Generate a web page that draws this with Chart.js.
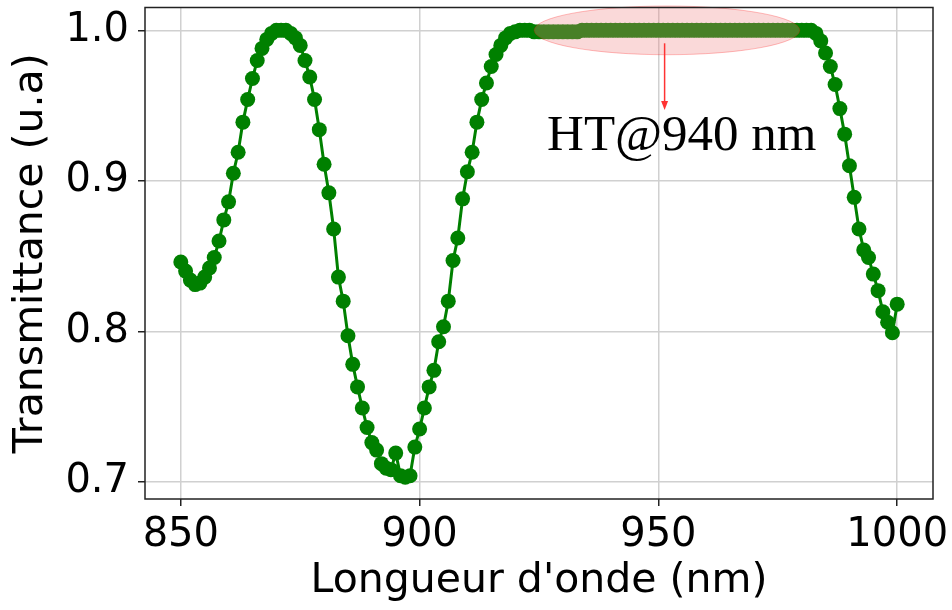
<!DOCTYPE html>
<html>
<head>
<meta charset="utf-8">
<script src="https://cdn.jsdelivr.net/npm/chart.js@4.4.1/dist/chart.umd.min.js"></script>
<style>
  html, body { margin: 0; background: #fff; }
  #wrap { width: 952px; height: 610px; }
</style>
</head>
<body>
<div id="wrap"><canvas id="chart" width="952" height="610"></canvas></div>
<script>
// Spectre de transmission du filtre, pas de 1 nm
const WAVELENGTH = [
  850, 851, 852, 853, 854, 855, 856, 857, 858, 859,
  860, 861, 862, 863, 864, 865, 866, 867, 868, 869,
  870, 871, 872, 873, 874, 875, 876, 877, 878, 879,
  880, 881, 882, 883, 884, 885, 886, 887, 888, 889,
  890, 891, 892, 893, 894, 895, 896, 897, 898, 899,
  900, 901, 902, 903, 904, 905, 906, 907, 908, 909,
  910, 911, 912, 913, 914, 915, 916, 917, 918, 919,
  920, 921, 922, 923, 924, 925, 926, 927, 928, 929,
  930, 931, 932, 933, 934, 935, 936, 937, 938, 939,
  940, 941, 942, 943, 944, 945, 946, 947, 948, 949,
  950, 951, 952, 953, 954, 955, 956, 957, 958, 959,
  960, 961, 962, 963, 964, 965, 966, 967, 968, 969,
  970, 971, 972, 973, 974, 975, 976, 977, 978, 979,
  980, 981, 982, 983, 984, 985, 986, 987, 988, 989,
  990, 991, 992, 993, 994, 995, 996, 997, 998, 999,
  1000
];
const TRANSMITTANCE = [
  0.846, 0.840, 0.834, 0.831, 0.832, 0.836, 0.842, 0.849, 0.860, 0.874,
  0.886, 0.905, 0.919, 0.939, 0.954, 0.968, 0.980, 0.988, 0.994, 0.998,
  1.000, 1.000, 1.000, 0.998, 0.995, 0.990, 0.980, 0.969, 0.954, 0.934,
  0.911, 0.892, 0.868, 0.836, 0.820, 0.797, 0.778, 0.763, 0.749, 0.736,
  0.726, 0.721, 0.712, 0.709, 0.708, 0.719, 0.704, 0.703, 0.704, 0.723,
  0.735, 0.749, 0.763, 0.774, 0.793, 0.803, 0.820, 0.847, 0.862, 0.888,
  0.906, 0.919, 0.939, 0.954, 0.965, 0.976, 0.984, 0.990, 0.995, 0.998,
  0.999, 1.000, 1.000, 1.000, 0.999, 0.999, 0.999, 0.999, 0.999, 0.999,
  0.999, 0.999, 0.999, 0.999, 1.000, 1.000, 1.000, 1.000, 1.000, 1.000,
  1.000, 1.000, 1.000, 1.000, 1.000, 1.000, 1.000, 1.000, 1.000, 1.000,
  1.000, 1.000, 1.000, 1.000, 1.000, 1.000, 1.000, 1.000, 1.000, 1.000,
  1.000, 1.000, 1.000, 1.000, 1.000, 1.000, 1.000, 1.000, 1.000, 1.000,
  1.000, 1.000, 1.000, 1.000, 1.000, 1.000, 1.000, 1.000, 1.000, 1.000,
  1.000, 1.000, 1.000, 0.998, 0.993, 0.985, 0.976, 0.964, 0.948, 0.931,
  0.910, 0.889, 0.868, 0.854, 0.849, 0.838, 0.827, 0.813, 0.806, 0.799,
  0.818
];
const X_TICKS = [850, 900, 950, 1000];
const Y_TICKS = [0.7, 0.8, 0.9, 1.0];

// zone haute transmission : ellipse, flèche et légende
const NOTE = {
  cx: 951.8, cy: 1.0, rx: 27.8, ry: 0.0162,
  arrowX: 951.3, arrowFrom: 0.9914, arrowTo: 0.947,
  text: "HT@940 nm", textX: 926.7, textY: 0.9205,
};

const FONT = "'DejaVu Sans', sans-serif";

const noteBox = {
  id: "noteBox",
  afterDatasetsDraw(chart) {
    const { ctx, scales: { x, y } } = chart;
    const cx = x.getPixelForValue(NOTE.cx), cy = y.getPixelForValue(NOTE.cy);
    const rx = Math.abs(x.getPixelForValue(NOTE.cx + NOTE.rx) - cx);
    const ry = Math.abs(y.getPixelForValue(NOTE.cy + NOTE.ry) - cy);
    ctx.save();
    ctx.beginPath();
    ctx.ellipse(cx, cy, rx, ry, 0, 0, Math.PI * 2);
    ctx.fillStyle = "rgba(240,128,128,0.3)";
    ctx.fill();
    ctx.strokeStyle = "rgba(255,0,0,0.25)";
    ctx.lineWidth = 1;
    ctx.stroke();

    const ax = x.getPixelForValue(NOTE.arrowX);
    const y0 = y.getPixelForValue(NOTE.arrowFrom), y1 = y.getPixelForValue(NOTE.arrowTo);
    ctx.strokeStyle = "#ff3333";
    ctx.fillStyle = "#ff3333";
    ctx.lineWidth = 1.5;
    ctx.beginPath(); ctx.moveTo(ax, y0); ctx.lineTo(ax, y1 - 8); ctx.stroke();
    ctx.beginPath();
    ctx.moveTo(ax, y1); ctx.lineTo(ax - 3.5, y1 - 9); ctx.lineTo(ax + 3.5, y1 - 9);
    ctx.closePath(); ctx.fill();

    ctx.fillStyle = "#000";
    ctx.font = "51px 'Liberation Serif', 'Times New Roman', serif";
    ctx.textAlign = "left";
    ctx.textBaseline = "alphabetic";
    ctx.fillText(NOTE.text, x.getPixelForValue(NOTE.textX), y.getPixelForValue(NOTE.textY));
    ctx.restore();
  },
  afterDraw(chart) {
    const { ctx, chartArea: a } = chart;
    ctx.save();
    ctx.strokeStyle = "#222";
    ctx.lineWidth = 1.5;
    ctx.strokeRect(a.left, a.top, a.right - a.left, a.bottom - a.top);
    ctx.restore();
  },
};

new Chart(document.getElementById("chart"), {
  type: "line",
  data: {
    datasets: [{
      data: WAVELENGTH.map((w, i) => ({ x: w, y: TRANSMITTANCE[i] })),
      borderColor: "#008000",
      backgroundColor: "#008000",
      borderWidth: 3,
      pointRadius: 7.5,
      pointBorderWidth: 0,
      pointHoverRadius: 7.5,
      tension: 0,
    }],
  },
  options: {
    responsive: false,
    animation: false,
    events: [],
    layout: { padding: { top: 7, right: 19, left: 0, bottom: 0 } },
    plugins: { legend: { display: false }, tooltip: { enabled: false } },
    scales: {
      x: {
        type: "linear",
        min: 842.5, max: 1007.5,
        afterBuildTicks: (s) => { s.ticks = X_TICKS.map((v) => ({ value: v })); },
        afterFit: (s) => { s.height = 111; s.paddingLeft = 0; s.paddingRight = 0; },
        ticks: {
          color: "#000", font: { family: FONT, size: 40 }, padding: 6,
          maxRotation: 0, autoSkip: false, callback: (v) => String(v),
        },
        grid: { color: "#d0d0d0", lineWidth: 1.5, tickColor: "#222", tickLength: 7 },
        border: { display: false },
        title: {
          display: true, text: "Longueur d'onde (nm)", color: "#000",
          font: { family: FONT, size: 41 }, padding: { top: 0, bottom: 4 },
        },
      },
      y: {
        min: 0.6885, max: 1.0152,
        afterBuildTicks: (s) => { s.ticks = Y_TICKS.map((v) => ({ value: v })); },
        afterFit: (s) => { s.width = 145; s.paddingTop = 0; s.paddingBottom = 0; },
        ticks: {
          color: "#000", font: { family: FONT, size: 40 }, padding: 9,
          callback: (v) => v.toFixed(1),
        },
        grid: { color: "#d0d0d0", lineWidth: 1.5, tickColor: "#222", tickLength: 7 },
        border: { display: false },
        title: {
          display: true, text: "Transmittance (u.a)", color: "#000",
          font: { family: FONT, size: 41 }, padding: { top: 7, bottom: 0 },
        },
      },
    },
  },
  plugins: [noteBox],
});
</script>
</body>
</html>
